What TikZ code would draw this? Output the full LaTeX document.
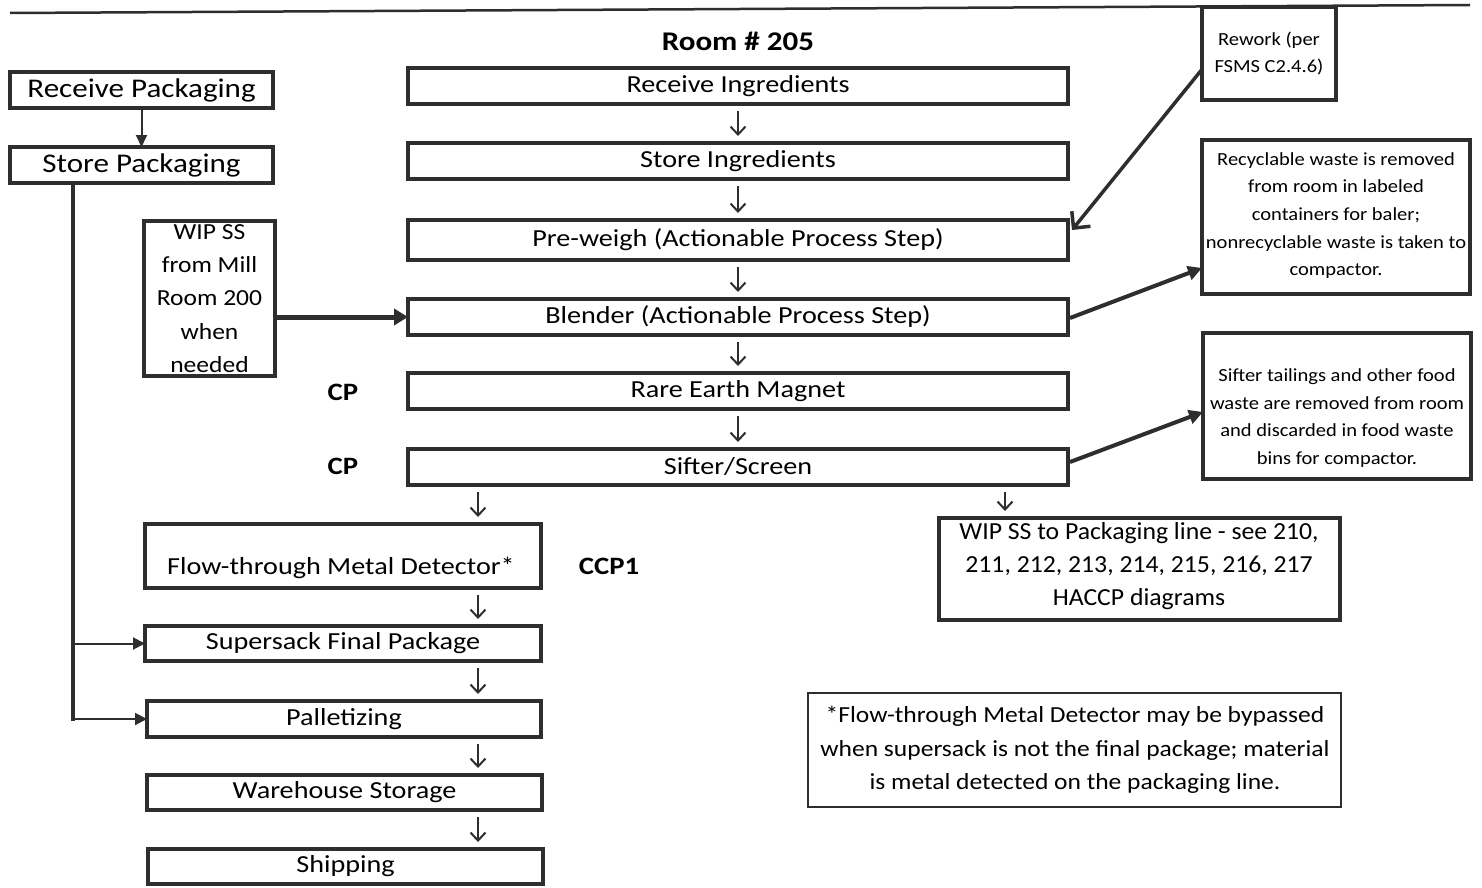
\documentclass[tikz,border=0pt]{standalone}
\usepackage{fontspec}
\setmainfont{Carlito}[FakeStretch=1.15]
\newfontfamily\fsmall{Carlito}[FakeStretch=1.11]
\newfontfamily\fwpk{Carlito}[FakeStretch=1.05]
\usetikzlibrary{arrows.meta,calc}
\begin{document}
\begin{tikzpicture}[x=1pt,y=-1pt,
  ink/.style={draw=black!82},
  box/.style={ink, line width=4pt, inner sep=0pt, outer sep=0pt},
  thinbox/.style={ink, line width=2pt, inner sep=0pt, outer sep=0pt},
  mtext/.style={font=\fontsize{24.5}{29}\selectfont},
  ltext/.style={font=\fontsize{27}{32}\selectfont},
  stext/.style={font=\fsmall\fontsize{18.5}{27.7}\selectfont, align=center},
  wtext/.style={font=\fsmall\fontsize{23}{33.4}\selectfont, align=center},
  btext/.style={font=\fontsize{25}{30}\selectfont\bfseries},
  downarr/.style={ink, line width=2pt, -{Straight Barb[length=8pt,width=15pt,line width=2pt]}, shorten <=7pt, shorten >=7pt},
  fatarr/.style={ink, line width=4pt, -{Triangle[length=14pt,width=14pt]}},
  sidearr/.style={ink, line width=2pt, -{Triangle[length=12pt,width=12pt]}}
]
\useasboundingbox (0,0) rectangle (1482,888);
% top rule
\coordinate (tl) at (10,13);
\coordinate (tr) at (1470,5);
\draw[ink, line width=2.5pt] (tl) -- (tr);

% left packaging column
\node[box, minimum width=263pt, minimum height=36pt, ltext] (rp) at (141.5,90) {Receive Packaging};
\node[box, minimum width=263pt, minimum height=36pt, ltext] (sp) at (141.5,165) {Store Packaging};
\draw[ink, line width=2pt, -{Triangle[length=12pt,width=11pt]}] (rp.south) -- (sp.north);

% WIP box
\node[box, minimum width=131pt, minimum height=155pt] (wip) at (209.5,298.5) {};
\node[wtext] (wipt) at (209.5,298.5) {WIP SS\\from Mill\\Room 200\\when\\needed};

% title
\node[font=\fontsize{27}{32}\selectfont\bfseries] (title) at (738,41) {Room \# 205};

% main column
\node[box, minimum width=660pt, minimum height=36pt, mtext] (ri) at (738,86) {Receive Ingredients};
\node[box, minimum width=660pt, minimum height=36pt, mtext] (si) at (738,161) {Store Ingredients};
\node[box, minimum width=660pt, minimum height=40pt, mtext] (pw) at (738,240) {Pre-weigh (Actionable Process Step)};
\node[box, minimum width=660pt, minimum height=36pt, mtext] (bl) at (738,317) {Blender (Actionable Process Step)};
\node[box, minimum width=660pt, minimum height=36pt, mtext] (rem) at (738,391) {Rare Earth Magnet};
\node[box, minimum width=660pt, minimum height=36pt, mtext] (sf) at (738,467) {Sifter/Screen};

\draw[downarr] (ri.south) -- (si.north);
\draw[downarr] (si.south) -- (pw.north);
\draw[downarr] (pw.south) -- (bl.north);
\draw[downarr] (bl.south) -- (rem.north);
\draw[downarr] (rem.south) -- (sf.north);

\node[btext] (cp1) at (343,392) {CP};
\node[btext] (cp2) at (343,466) {CP};

% WIP into blender
\draw[ink, line width=5pt, -{Triangle[length=14pt,width=16pt]}] (wip.east |- bl.west) -- (bl.west);

% lower left column
\node[box, minimum width=396pt, minimum height=64pt] (md) at (343,556) {};
\node[mtext] (mdt) at (341,568) {Flow-through Metal Detector*};
\node[btext] (ccp) at (609,566) {CCP1};
\node[box, minimum width=396pt, minimum height=35pt, mtext] (ss) at (343,643.5) {Supersack Final Package};
\node[box, minimum width=394pt, minimum height=36pt, mtext] (pal) at (344,719) {Palletizing};
\node[box, minimum width=395pt, minimum height=35pt, mtext] (wh) at (344.5,792.5) {Warehouse Storage};
\node[box, minimum width=395pt, minimum height=35pt, mtext] (sh) at (345.5,866.5) {Shipping};

\coordinate (colx) at (478,0);
\draw[downarr] (sf.south -| colx) -- (md.north -| colx);
\draw[downarr] (md.south -| colx) -- (ss.north -| colx);
\draw[downarr] (ss.south -| colx) -- (pal.north -| colx);
\draw[downarr] (pal.south -| colx) -- (wh.north -| colx);
\draw[downarr] (wh.south -| colx) -- (sh.north -| colx);

% packaging feed line
\coordinate (lx) at (73,0);
\draw[ink, line width=4pt] (sp.south -| lx) -- ([yshift=-2pt]pal.west -| lx);
\draw[sidearr] (ss.west -| lx) -- (ss.west);
\draw[sidearr] (pal.west -| lx) -- (pal.west);

% right: to packaging line
\node[box, minimum width=401pt, minimum height=102pt] (wpk) at (1139.5,569) {};
\node[align=center, font=\fwpk\fontsize{24.5}{33}\selectfont] (wpkt) at (1139,566) {WIP SS to Packaging line - see 210,\\211, 212, 213, 214, 215, 216, 217\\HACCP diagrams};
\coordinate (colr) at (1005,0);
\draw[downarr] (sf.south -| colr) -- (wpk.north -| colr);

% footnote
\node[thinbox, minimum width=533pt, minimum height=114pt] (fn) at (1074.5,750) {};
\node[wtext] (fnt) at (1075,750) {*Flow-through Metal Detector may be bypassed\\when supersack is not the final package; material\\is metal detected on the packaging line.};

% side notes
\node[box, minimum width=134pt, minimum height=93pt] (rw) at (1269,53.5) {};
\node[stext] (rwt) at (1269,53.5) {Rework (per\\FSMS C2.4.6)};
\node[box, minimum width=268pt, minimum height=154pt] (rc) at (1336,217) {};
\node[stext] (rct) at (1336,215.5) {Recyclable waste is removed\\from room in labeled\\containers for baler;\\nonrecyclable waste is taken to\\compactor.};
\node[box, minimum width=268pt, minimum height=146pt] (st) at (1337,406) {};
\node[stext] (stt) at (1337,418) {Sifter tailings and other food\\waste are removed from room\\and discarded in food waste\\bins for compactor.};

% side arrows
\draw[ink, line width=3.5pt, -{Straight Barb[length=12pt,width=24pt,line width=3.5pt]}] ($(rw.south west)!0.33!(rw.north west)$) -- ($(pw.east)+(4,-10)$);
\draw[fatarr] ($(bl.east)+(2,1)$) -- ($(rc.west)+(0,51)$);
\draw[fatarr] ($(sf.east)+(2,-5)$) -- ($(st.west)+(0,6)$);
\end{tikzpicture}
\end{document}
